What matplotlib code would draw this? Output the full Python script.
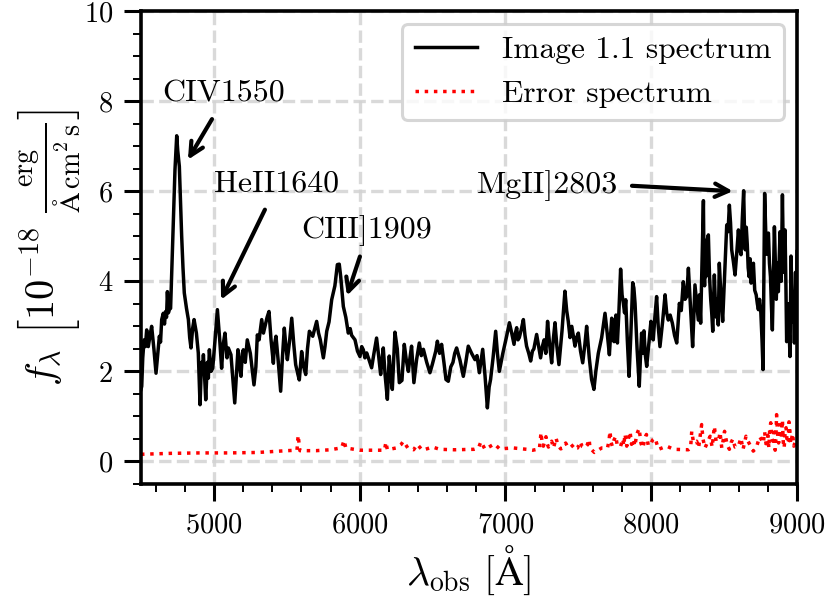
import numpy as np
import matplotlib
matplotlib.use('Agg')
import matplotlib.pyplot as plt
from matplotlib.ticker import MultipleLocator

plt.rcParams['font.family'] = 'serif'
plt.rcParams['font.serif'] = ['cmr10']
plt.rcParams['mathtext.fontset'] = 'cm'
plt.rcParams['axes.unicode_minus'] = False
plt.rcParams['axes.formatter.use_mathtext'] = True

# spectrum
wave = [4500, 4505, 4512, 4521, 4530, 4539, 4550, 4562, 4573, 4589, 4603, 4615, 4626, 4634, 4642, 4653,
        4661, 4669, 4675, 4681, 4688, 4694, 4703, 4712, 4722, 4733, 4745, 4752, 4763, 4770, 4779, 4788,
        4797, 4812, 4825, 4834, 4843, 4854, 4864, 4880, 4893, 4905, 4915, 4922, 4928, 4936, 4944, 4955,
        4962, 4969, 4980, 4992, 5008, 5024, 5032, 5040, 5053, 5064, 5076, 5090, 5099, 5117, 5130, 5143,
        5155, 5165, 5175, 5186, 5195, 5202, 5215, 5229, 5250, 5275, 5288, 5298, 5310, 5328, 5340, 5351,
        5365, 5378, 5392, 5408, 5416, 5426, 5442, 5458, 5470, 5483, 5494, 5504, 5520, 5534, 5548, 5561,
        5575, 5586, 5602, 5616, 5630, 5642, 5655, 5678, 5692, 5705, 5718, 5730, 5751, 5762, 5774, 5790,
        5808, 5830, 5847, 5860, 5870, 5888, 5905, 5922, 5935, 5945, 5968, 5985, 6002, 6014, 6025, 6036,
        6048, 6065, 6082, 6098, 6116, 6130, 6144, 6153, 6162, 6175, 6190, 6203, 6212, 6224, 6242, 6258,
        6272, 6290, 6306, 6320, 6334, 6345, 6356, 6372, 6390, 6409, 6423, 6437, 6460, 6482, 6498, 6510,
        6522, 6533, 6548, 6562, 6578, 6592, 6608, 6625, 6640, 6652, 6665, 6688, 6711, 6728, 6745, 6768,
        6791, 6805, 6821, 6833, 6844, 6860, 6876, 6888, 6898, 6915, 6933, 6945, 6958, 6982, 7008, 7027,
        7043, 7059, 7068, 7077, 7086, 7095, 7110, 7123, 7134, 7145, 7160, 7173, 7185, 7195, 7214, 7228,
        7241, 7253, 7265, 7277, 7289, 7303, 7317, 7328, 7340, 7353, 7367, 7388, 7408, 7420, 7431, 7443,
        7455, 7477, 7488, 7500, 7515, 7530, 7545, 7557, 7575, 7591, 7607, 7620, 7637, 7660, 7683, 7698,
        7713, 7721, 7729, 7737, 7745, 7751, 7758, 7763, 7768, 7778, 7790, 7800, 7809, 7817, 7825, 7836,
        7848, 7860, 7873, 7881, 7889, 7903, 7918, 7926, 7934, 7942, 7950, 7960, 7969, 7983, 7998, 8006,
        8014, 8025, 8037, 8048, 8060, 8078, 8095, 8106, 8117, 8130, 8145, 8160, 8175, 8184, 8193, 8206,
        8220, 8232, 8243, 8255, 8270, 8284, 8292, 8300, 8312, 8323, 8331, 8339, 8349, 8358, 8362, 8366,
        8370, 8374, 8378, 8382, 8392, 8400, 8408, 8415, 8422, 8428, 8433, 8440, 8448, 8454, 8460, 8467,
        8478, 8490, 8504, 8518, 8527, 8536, 8544, 8552, 8563, 8575, 8586, 8598, 8607, 8616, 8625, 8634,
        8640, 8645, 8652, 8659, 8665, 8672, 8678, 8685, 8693, 8701, 8710, 8720, 8728, 8735, 8743, 8752,
        8760, 8767, 8772, 8778, 8784, 8790, 8797, 8804, 8811, 8818, 8824, 8831, 8838, 8845, 8852, 8858,
        8865, 8872, 8878, 8884, 8888, 8892, 8896, 8900, 8905, 8910, 8914, 8918, 8924, 8929, 8935, 8940,
        8946, 8952, 8959, 8965, 8970, 8976, 8982, 8986, 8990, 8995, 9000]
flux = [1.60, 1.67, 2.30, 2.70, 2.55, 2.92, 2.55, 2.80, 3.00, 2.48, 1.96, 2.40, 2.78, 2.65, 3.15, 3.29,
        3.05, 3.33, 3.20, 3.77, 3.30, 3.37, 3.40, 4.30, 5.36, 6.47, 7.23, 6.90, 6.55, 5.90, 5.00, 4.30,
        3.74, 3.40, 3.15, 2.75, 2.52, 2.95, 3.15, 2.85, 2.41, 1.26, 2.20, 2.00, 2.37, 1.90, 1.37, 2.20,
        1.85, 2.48, 2.00, 2.07, 2.70, 3.37, 3.05, 2.70, 2.07, 2.60, 2.85, 2.30, 2.52, 2.37, 1.85, 1.30,
        1.95, 2.48, 2.15, 1.89, 2.40, 2.48, 2.20, 2.70, 2.40, 1.70, 2.10, 2.81, 2.70, 3.15, 2.85, 3.00,
        3.20, 3.33, 2.70, 2.18, 2.60, 2.78, 2.20, 1.56, 2.30, 2.96, 2.55, 2.26, 2.70, 3.18, 2.60, 2.15,
        1.95, 1.81, 2.44, 2.10, 1.93, 2.50, 2.89, 2.78, 2.95, 3.11, 2.85, 2.70, 2.30, 2.55, 2.89, 3.10,
        3.59, 3.90, 4.37, 4.38, 4.10, 3.44, 3.20, 2.85, 2.95, 2.80, 2.70, 2.45, 2.33, 2.55, 2.48, 2.30,
        2.41, 2.25, 2.08, 2.40, 2.74, 2.35, 1.93, 2.25, 2.52, 1.90, 1.38, 2.34, 1.95, 1.60, 2.87, 2.50,
        1.75, 1.80, 2.60, 2.25, 2.00, 2.30, 2.56, 1.75, 2.25, 2.63, 2.35, 2.49, 2.20, 1.97, 2.15, 2.30,
        2.45, 2.67, 2.40, 2.60, 2.20, 1.82, 1.78, 2.10, 2.20, 2.40, 2.52, 2.25, 1.89, 2.20, 2.56, 2.40,
        2.26, 2.35, 1.97, 2.25, 2.49, 1.90, 1.19, 1.65, 1.82, 2.30, 2.89, 2.40, 2.00, 2.40, 2.78, 3.08,
        2.85, 2.60, 2.85, 2.97, 2.70, 2.75, 2.95, 3.15, 2.80, 2.56, 2.40, 2.23, 2.45, 2.50, 2.82, 2.55,
        2.30, 2.55, 2.70, 2.40, 3.11, 2.60, 2.19, 2.70, 3.08, 2.55, 2.15, 2.90, 3.78, 3.35, 3.11, 2.75,
        3.00, 2.56, 2.75, 2.85, 2.45, 2.19, 2.60, 3.00, 2.30, 1.82, 1.60, 2.00, 2.40, 2.75, 3.29, 2.85,
        2.37, 2.80, 3.18, 2.70, 2.66, 3.05, 3.25, 2.85, 2.63, 3.30, 4.27, 3.70, 3.51, 3.30, 3.59, 2.70,
        1.89, 2.80, 3.97, 3.85, 3.51, 2.50, 1.67, 2.30, 2.85, 2.40, 2.90, 2.35, 2.11, 2.60, 3.11, 2.75,
        2.70, 3.20, 3.66, 3.00, 2.55, 3.10, 3.70, 3.30, 3.14, 3.25, 3.07, 2.80, 2.63, 3.05, 3.51, 3.35,
        3.99, 3.60, 3.66, 4.29, 3.40, 2.55, 3.20, 3.92, 3.50, 3.14, 3.70, 3.07, 4.50, 5.79, 4.30, 3.90,
        4.70, 4.10, 4.60, 4.90, 5.03, 4.10, 3.60, 3.30, 2.89, 3.60, 4.14, 3.50, 3.20, 3.60, 3.03, 4.40,
        3.70, 3.11, 4.20, 5.25, 5.10, 5.69, 5.30, 4.70, 4.45, 4.14, 4.60, 5.14, 4.70, 4.59, 5.40, 6.01,
        5.10, 4.70, 5.20, 4.81, 4.30, 4.10, 4.50, 3.96, 4.20, 4.40, 3.80, 3.70, 3.50, 3.37, 3.60, 3.30,
        2.70, 2.04, 3.80, 5.95, 5.30, 4.60, 5.00, 5.07, 4.40, 4.10, 3.50, 2.92, 4.10, 5.21, 4.30, 3.60,
        4.40, 3.77, 4.50, 5.10, 4.50, 4.00, 5.00, 5.92, 4.80, 4.20, 4.90, 5.14, 3.90, 2.66, 3.20, 3.50,
        2.90, 2.33, 4.56, 3.70, 3.10, 3.50, 2.63, 3.30, 4.20, 3.30, 4.66]

err_wave = [4500, 4700, 4900, 5100, 5300, 5500, 5570, 5578, 5590, 5700, 5800, 5870, 5880, 5893, 5905, 6000,
            6100, 6170, 6180, 6190, 6250, 6285, 6300, 6330, 6370, 6395, 6430, 6500, 6550, 6650, 6784, 6815,
            6832, 6860, 6924, 6960, 7054, 7146, 7187, 7233, 7244, 7252, 7260, 7278, 7288, 7295, 7317, 7330,
            7347, 7360, 7379, 7395, 7413, 7428, 7442, 7470, 7485, 7495, 7512, 7527, 7545, 7560, 7574, 7580,
            7610, 7660, 7700, 7710, 7717, 7725, 7733, 7745, 7757, 7766, 7775, 7790, 7805, 7812, 7820, 7832,
            7843, 7855, 7865, 7875, 7888, 7900, 7917, 7930, 7942, 7955, 7967, 7980, 7995, 8010, 8026, 8050,
            8106, 8155, 8255, 8270, 8278, 8290, 8312, 8325, 8346, 8355, 8369, 8385, 8404, 8418, 8433, 8445,
            8462, 8472, 8484, 8495, 8503, 8520, 8536, 8548, 8560, 8575, 8598, 8615, 8630, 8650, 8664, 8700,
            8720, 8744, 8769, 8778, 8785, 8792, 8800, 8807, 8813, 8820, 8827, 8834, 8842, 8850, 8855, 8860,
            8867, 8874, 8880, 8885, 8892, 8900, 8906, 8912, 8918, 8925, 8933, 8940, 8945, 8950, 8956, 8962,
            8970, 8978, 8989, 9000]
err_flux = [0.16, 0.18, 0.19, 0.19, 0.20, 0.24, 0.25, 0.58, 0.24, 0.24, 0.26, 0.30, 0.34, 0.47, 0.30, 0.25,
            0.25, 0.25, 0.43, 0.26, 0.30, 0.38, 0.45, 0.30, 0.26, 0.38, 0.25, 0.32, 0.27, 0.26, 0.27, 0.30,
            0.44, 0.27, 0.39, 0.28, 0.30, 0.27, 0.25, 0.28, 0.64, 0.40, 0.34, 0.55, 0.38, 0.32, 0.45, 0.30,
            0.52, 0.36, 0.28, 0.30, 0.41, 0.32, 0.30, 0.38, 0.30, 0.30, 0.44, 0.33, 0.30, 0.36, 0.49, 0.30,
            0.20, 0.30, 0.30, 0.45, 0.67, 0.42, 0.34, 0.48, 0.56, 0.38, 0.40, 0.34, 0.50, 0.35, 0.61, 0.34,
            0.50, 0.66, 0.38, 0.50, 0.34, 0.60, 0.73, 0.40, 0.30, 0.48, 0.60, 0.35, 0.38, 0.48, 0.52, 0.27,
            0.34, 0.27, 0.26, 0.30, 0.67, 0.42, 0.45, 0.30, 0.82, 0.50, 0.30, 0.42, 0.56, 0.32, 0.78, 0.45,
            0.45, 0.65, 0.30, 0.50, 0.67, 0.38, 0.27, 0.42, 0.50, 0.32, 0.34, 0.52, 0.27, 0.56, 0.45, 0.23,
            0.30, 0.55, 0.41, 0.66, 0.45, 0.30, 0.58, 0.30, 0.72, 0.86, 0.52, 0.45, 0.65, 0.25, 0.48, 1.04,
            0.60, 0.41, 0.66, 0.82, 0.50, 0.92, 0.42, 0.30, 0.62, 0.75, 0.40, 0.45, 0.88, 0.75, 0.40, 0.49,
            0.62, 0.34, 0.45, 0.35]

line_labels = ['CIV1550', 'HeII1640', 'CIII]1909', 'MgII]2803']
label_x = [4645, 5000, 5597, 6805]
label_y = [8.0, 6.0, 4.97, 5.96]
arrow_from = [(4987, 7.6), (5350, 5.59), (6002, 4.55), (7868, 6.12)]
arrow_to = [(4822, 6.7), (5049, 3.59), (5913, 3.68), (8560, 6.0)]

fig = plt.figure(figsize=(8.3, 5.98), dpi=100)
ax = fig.add_axes([141 / 830, 1 - 484 / 598, 656 / 830, 473 / 598])

ax.plot(wave, flux, color='k', lw=2.5, label='Image 1.1 spectrum')
ax.plot(err_wave, err_flux, color='r', lw=2.5, ls=':', label='Error spectrum')

for name, x, y in zip(line_labels, label_x, label_y):
    ax.text(x, y, name, fontsize=23, ha='left', va='baseline')
for start, end in zip(arrow_from, arrow_to):
    ax.annotate('', xy=end, xytext=start,
                arrowprops=dict(arrowstyle='->', color='k', lw=3, mutation_scale=24,
                                shrinkA=0, shrinkB=0))

ax.set_xlim(4500, 9000)
ax.set_ylim(-0.5, 10)
ax.xaxis.set_major_locator(MultipleLocator(1000))
ax.xaxis.set_minor_locator(MultipleLocator(200))
ax.yaxis.set_major_locator(MultipleLocator(2))
ax.yaxis.set_minor_locator(MultipleLocator(0.5))
ax.tick_params(axis='x', which='major', length=12, width=2.2, labelsize=20.5, pad=8)
ax.tick_params(axis='y', which='major', length=12, width=2.2, labelsize=20.5, pad=8)
ax.tick_params(which='minor', length=6, width=1.4)
ax.grid(True, which='major', color='lightgray', ls='--', lw=2.4, alpha=0.85)
for sp in ax.spines.values():
    sp.set_linewidth(2.6)

ax.set_xlabel(r'$\lambda_{\rm obs}\ [\mathrm{\AA}]$', fontsize=28.5, labelpad=4)
ax.set_ylabel(r'$f_\lambda\ \left[10^{-18}\ \frac{\rm erg}{\mathrm{\AA\,cm^2\,s}}\right]$', fontsize=29, labelpad=1)

leg = ax.legend(loc='upper right', fontsize=22.6, borderaxespad=0.4, handlelength=2.0)
leg.get_frame().set_linewidth(2.2)

fig.savefig('out.png', dpi=100)
